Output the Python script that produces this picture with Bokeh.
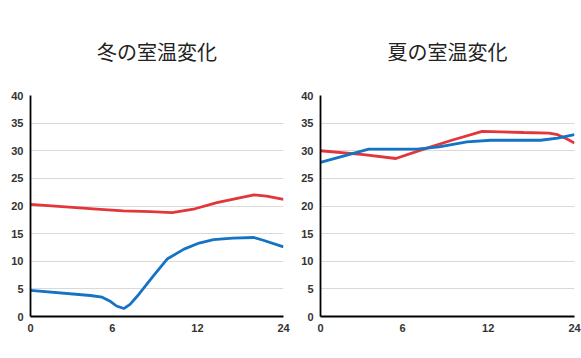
from bokeh.plotting import figure
from bokeh.layouts import row
from bokeh.models import Range1d, FixedTicker
from bokeh.embed import file_html
from bokeh.resources import INLINE

# x positions along the axis (axis units: tick "0"=0, "6"~1, "12"~2, "24"=3)
tick_positions = [0, 0.97, 1.98, 3.0]
tick_labels = ["0", "6", "12", "24"]
y_ticks = [0, 5, 10, 15, 20, 25, 30, 35, 40]

titles = ["冬の室温変化", "夏の室温変化"]

winter_blue_x = [0.0, 0.71, 0.85, 0.95, 1.02, 1.106, 1.18, 1.265, 1.45, 1.62, 1.82, 2.0, 2.17, 2.4, 2.65, 2.76, 3.0]
winter_blue_y = [4.74, 3.8, 3.5, 2.7, 1.9, 1.44, 2.2, 3.66, 7.2, 10.4, 12.2, 13.3, 13.9, 14.2, 14.3, 13.8, 12.6]
winter_red_x = [0.0, 0.83, 1.1, 1.42, 1.68, 1.95, 2.21, 2.45, 2.65, 2.8, 3.0]
winter_red_y = [20.3, 19.4, 19.1, 19.0, 18.8, 19.5, 20.6, 21.4, 22.0, 21.8, 21.2]

summer_blue_x = [0.0, 0.57, 1.14, 1.4, 1.73, 2.01, 2.6, 2.8, 3.0]
summer_blue_y = [27.9, 30.3, 30.3, 30.7, 31.6, 31.9, 31.9, 32.3, 32.9]
summer_red_x = [0.0, 0.51, 0.89, 1.22, 1.55, 1.91, 2.4, 2.7, 2.8, 2.9, 3.0]
summer_red_y = [30.0, 29.3, 28.6, 30.3, 31.9, 33.5, 33.3, 33.2, 32.9, 32.2, 31.4]

BLUE = "#1473c4"
RED = "#e2363a"


def make_panel(title, bx, by, rx, ry, width, left, right):
    p = figure(width=width, height=350, output_backend="svg", toolbar_location=None,
               x_range=Range1d(0, 3), y_range=Range1d(0, 40),
               min_border_left=left, min_border_right=right, min_border_top=95,
               min_border_bottom=34)
    p.title.text = title
    p.title.align = "center"
    p.title.text_font = "Noto Sans CJK JP"
    p.title.text_font_size = "20px"
    p.title.text_font_style = "normal"
    p.title.text_color = "#222222"
    p.title.standoff = 60
    p.outline_line_color = None
    p.xgrid.grid_line_color = None
    p.ygrid.grid_line_color = "#d9d9d9"
    p.ygrid.grid_line_width = 1
    p.line(rx, ry, line_color=RED, line_width=2.8)
    p.line(bx, by, line_color=BLUE, line_width=2.8)

    p.xaxis.ticker = FixedTicker(ticks=tick_positions)
    p.xaxis.major_label_overrides = {t: l for t, l in zip(tick_positions, tick_labels)}
    p.yaxis.ticker = FixedTicker(ticks=y_ticks)
    for ax in (p.xaxis, p.yaxis):
        ax.axis_line_color = "black"
        ax.axis_line_width = 1.8
        ax.major_tick_line_color = None
        ax.minor_tick_line_color = None
        ax.major_tick_out = 0
        ax.major_tick_in = 0
        ax.major_label_text_font = "Liberation Sans"
        ax.major_label_text_font_size = "11px"
        ax.major_label_text_font_style = "bold"
        ax.major_label_text_color = "#333333"
    p.yaxis.major_label_standoff = 7
    p.xaxis.major_label_standoff = 7
    return p


p1 = make_panel(titles[0], winter_blue_x, winter_blue_y, winter_red_x, winter_red_y, 297, 30, 14)
p2 = make_panel(titles[1], summer_blue_x, summer_blue_y, summer_red_x, summer_red_y, 284, 23, 7)
p = row(p1, p2)

open("out.html", "w").write(file_html(p, INLINE))
